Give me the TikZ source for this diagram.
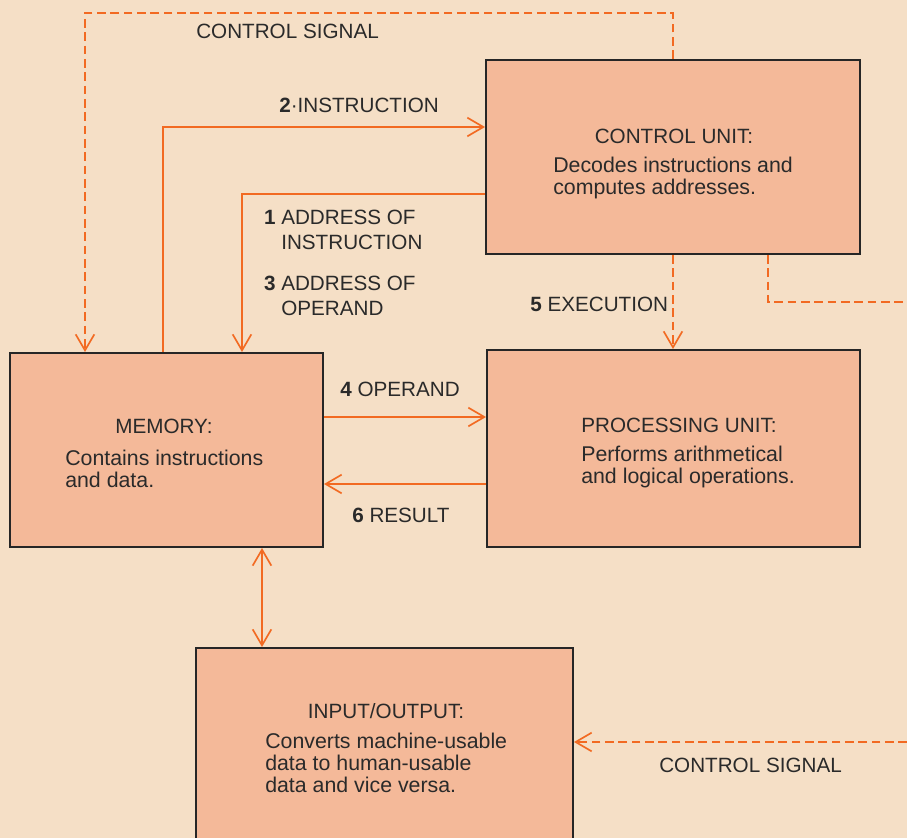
\documentclass[tikz,border=0pt]{standalone}
\usepackage{fontspec}
\setmainfont{Liberation Sans}
\usetikzlibrary{arrows.meta}
\definecolor{mpaper}{HTML}{F5DFC6}
\definecolor{msalmon}{HTML}{F4B999}
\definecolor{morange}{HTML}{F26A22}
\definecolor{mink}{HTML}{2A2A2A}
\tikzstyle{unit} = [rectangle, draw=black!85, line width=1.5pt, fill=msalmon, inner sep=0pt]
\tikzstyle{title} = [text=mink, font=\fontsize{15.5}{18}\selectfont, anchor=base, inner sep=0pt]
\tikzstyle{body} = [text=mink, font=\fontsize{16}{16.5}\selectfont, align=left, anchor=north west, inner sep=0pt]
\tikzstyle{tag} = [text=mink, font=\fontsize{15.5}{18.75}\selectfont, align=left, anchor=north west, inner sep=0pt]
\tikzstyle{wire} = [draw=morange, line width=1.25pt, ->]
\tikzstyle{ctrl} = [wire, dash pattern=on 6.5pt off 3.5pt]
\tikzstyle{both} = [wire, <->]

\begin{document}
\begin{tikzpicture}[x=0.75pt, y=-0.75pt, >={Straight Barb[length=12pt,width=14pt]}]
\useasboundingbox (0,0) rectangle (907,838);
\clip (0,0) rectangle (907,838);
\fill [mpaper] (0,0) rectangle (907,838);
%Units
\node (cu) [unit, minimum width=280.5pt, minimum height=145.5pt] at (673,157) {};
\node (pu) [unit, minimum width=279.75pt, minimum height=147.75pt] at (673.5,448.5) {};
\node (mem) [unit, minimum width=234.75pt, minimum height=145.5pt] at (166.5,450) {};
\node (io) [unit, minimum width=282.75pt, minimum height=159pt] at (384.5,754) {};
\node (cutitle) [title] at (674,144) {CONTROL UNIT:};
\node (cutext) [body] at (553,156.5) {Decodes instructions and\\computes addresses.};
\node (putitle) [title] at (679,432) {PROCESSING UNIT:};
\node (putext) [body] at (581,446) {Performs arithmetical\\and logical operations.};
\node (memtitle) [title] at (164,433) {MEMORY:};
\node (memtext) [body] at (65,449.5) {Contains instructions\\and data.};
\node (iotitle) [title] at (386,718) {INPUT/OUTPUT:};
\node (iotext) [body] at (265,732.5) {Converts machine-usable\\data to human-usable\\data and vice versa.};
%Connectors
\coordinate (sigtop) at (85,13);
\coordinate (instr) at (163,127);
\coordinate (addr) at (242,194);
\coordinate (opnd) at (400,417);
\coordinate (res) at (400,484);
\coordinate (memio) at (262,600);
\coordinate (loop) at (768,280);
\coordinate (offr) at (907,302);
\coordinate (offb) at (907,742);
\draw [ctrl] (cu.north) |- (sigtop) -- (sigtop |- mem.north);
\draw [wire] (mem.north -| instr) |- (cu.west |- instr);
\draw [wire] (cu.west |- addr) -| (mem.north -| addr);
\draw [ctrl] (cu.south) -- (pu.north -| cu.south);
\draw [ctrl, -] (cu.south -| loop) |- (offr);
\draw [wire] (mem.east |- opnd) -- (pu.west |- opnd);
\draw [wire] (pu.west |- res) -- (mem.east |- res);
\draw [both] (mem.south -| memio) -- (io.north -| memio);
\draw [ctrl] (offb) -- (io.east |- offb);
%Connector labels
\node (sigtoptxt) [tag, anchor=base west] at (196,39) {CONTROL SIGNAL};
\node (instrtxt) [tag, anchor=base west] at (279,113) {\textbf{2}·INSTRUCTION};
\node (addrtxt) [tag] at (281,210) {\llap{\textbf{1} }ADDRESS OF\\INSTRUCTION};
\node (opaddrtxt) [tag] at (281,276) {\llap{\textbf{3} }ADDRESS OF\\OPERAND};
\node (exectxt) [tag, anchor=base west] at (530,311) {\textbf{5} EXECUTION};
\node (opndtxt) [tag, anchor=base west] at (340,396) {\textbf{4} OPERAND};
\node (restxt) [tag, anchor=base west] at (352,522) {\textbf{6} RESULT};
\node (sigbottxt) [tag, anchor=base west] at (659,772) {CONTROL SIGNAL};
\end{tikzpicture}
\end{document}
